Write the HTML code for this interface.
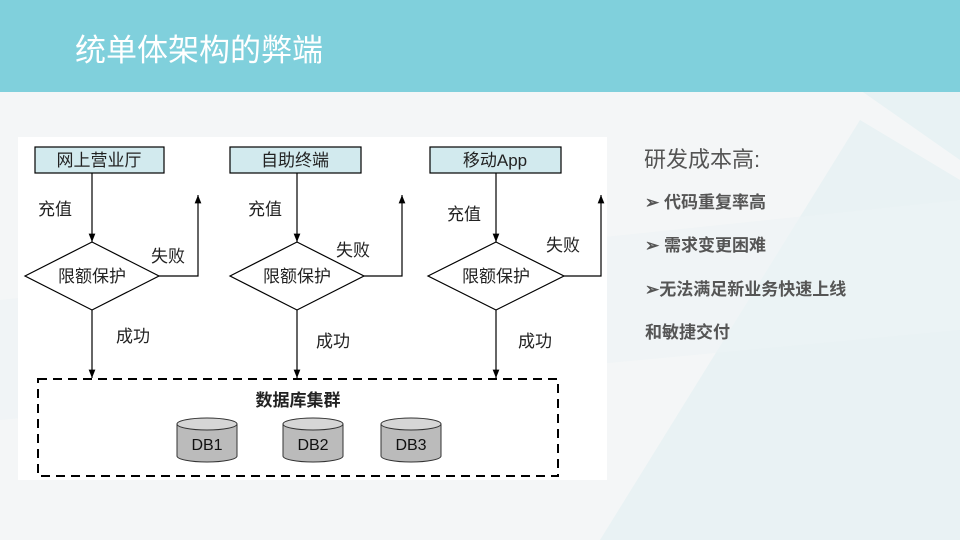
<!DOCTYPE html>
<html><head><meta charset="utf-8"><style>
body{margin:0;width:960px;height:540px;overflow:hidden;font-family:"Liberation Sans","Noto Sans CJK SC",sans-serif;}
</style></head><body>
<svg width="960" height="540" xmlns="http://www.w3.org/2000/svg" style="display:block;font-family:'Liberation Sans','Noto Sans CJK SC',sans-serif">
<defs>
<marker id="ar" viewBox="0 0 10 10" refX="10" refY="5" markerWidth="7" markerHeight="7" orient="auto"><path d="M0,1 L10,5 L0,9 z" fill="#000"/></marker></defs>
<rect width="960" height="540" fill="#f4f6f7"/>
<path d="M600,540 L860,120 L960,180 L960,540 Z" fill="#e6f1f3" opacity="0.8"/>
<path d="M0,300 L960,200 L960,330 L0,420 Z" fill="#edf4f5" opacity="0.6"/>
<path d="M860,90 L960,160 L960,90 Z" fill="#e8f2f4"/>
<rect width="960" height="92" fill="#80d0dc"/>
<text x="75" y="61" font-size="31" fill="#fff">统单体架构的弊端</text>
<rect x="18" y="137" width="589" height="343" fill="#fff"/>
<g font-size="16" fill="#222" stroke="#000" stroke-width="1.2">
<rect x="35" y="147" width="129" height="26" fill="#d2eaee"/>
<rect x="230" y="147" width="131" height="26" fill="#d2eaee"/>
<rect x="430" y="147" width="131" height="26" fill="#d2eaee"/>
<polygon points="25,276 92,242 159,276 92,310" fill="#fff"/>
<polygon points="230,276 297,242 364,276 297,310" fill="#fff"/>
<polygon points="428,276 496,242 564,276 496,310" fill="#fff"/>
<g fill="none">
<line x1="92" y1="173" x2="92" y2="242" marker-end="url(#ar)"/>
<line x1="92" y1="310" x2="92" y2="378" marker-end="url(#ar)"/>
<polyline points="159,276 198,276 198,195" marker-end="url(#ar)"/>
<line x1="297" y1="173" x2="297" y2="242" marker-end="url(#ar)"/>
<line x1="297" y1="310" x2="297" y2="378" marker-end="url(#ar)"/>
<polyline points="364,276 402,276 402,195" marker-end="url(#ar)"/>
<line x1="496" y1="173" x2="496" y2="242" marker-end="url(#ar)"/>
<line x1="496" y1="310" x2="496" y2="378" marker-end="url(#ar)"/>
<polyline points="564,276 601,276 601,195" marker-end="url(#ar)"/>
<rect x="38" y="379" width="520" height="97" stroke-width="2" stroke-dasharray="9,6"/>
</g>
</g>
<g font-size="17" fill="#222" text-anchor="middle">
<text x="99" y="166">网上营业厅</text>
<text x="295" y="166">自助终端</text>
<text x="495" y="166">移动App</text>
<text x="92" y="282">限额保护</text>
<text x="297" y="282">限额保护</text>
<text x="496" y="282">限额保护</text>
<text x="55" y="215">充值</text>
<text x="265" y="215">充值</text>
<text x="464" y="220">充值</text>
<text x="168" y="262">失败</text>
<text x="353" y="256">失败</text>
<text x="563" y="251">失败</text>
<text x="133" y="342">成功</text>
<text x="333" y="347">成功</text>
<text x="535" y="347">成功</text>
<text x="298" y="406" font-weight="bold">数据库集群</text>
</g>
<g stroke="#333" stroke-width="1" fill="#bbb">
<path d="M177,424 v32 a30,6 0 0 0 60,0 v-32"/><ellipse cx="207" cy="424" rx="30" ry="6" fill="#d6d6d6"/>
<path d="M283,424 v32 a30,6 0 0 0 60,0 v-32"/><ellipse cx="313" cy="424" rx="30" ry="6" fill="#d6d6d6"/>
<path d="M381,424 v32 a30,6 0 0 0 60,0 v-32"/><ellipse cx="411" cy="424" rx="30" ry="6" fill="#d6d6d6"/>
</g>
<g font-size="16" fill="#111" text-anchor="middle">
<text x="207" y="450">DB1</text><text x="313" y="450">DB2</text><text x="411" y="450">DB3</text>
</g>
<g fill="#555">
<text x="644" y="167" font-size="22">研发成本高:</text>
<text x="645" y="208" font-size="17" font-weight="bold">➢ 代码重复率高</text>
<text x="645" y="251" font-size="17" font-weight="bold">➢  需求变更困难</text>
<text x="645" y="295" font-size="17" font-weight="bold">➢无法满足新业务快速上线</text>
<text x="645" y="338" font-size="17" font-weight="bold">和敏捷交付</text>
</g>
</svg>
</body></html>
